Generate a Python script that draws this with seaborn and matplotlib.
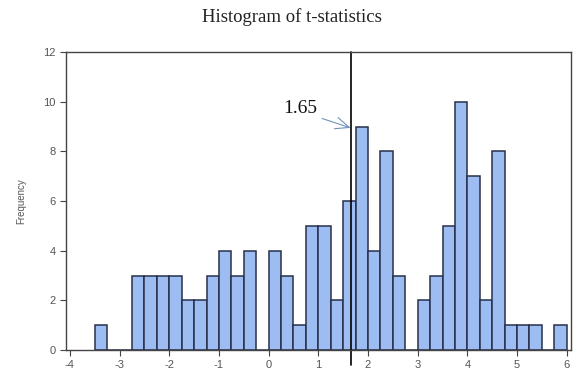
import numpy as np
import pandas as pd
import seaborn as sns
import matplotlib.pyplot as plt

# histogram of t-statistics, bins of width 0.25 starting at -3.5
bin_start = -3.5
bin_width = 0.25
counts = [1, 0, 0, 3, 3, 3, 3, 2, 2, 3, 4, 3, 4, 0,
          4, 3, 1, 5, 5, 2, 6, 9, 4, 8, 3, 0,
          2, 3, 5, 10, 7, 2, 8, 1, 1, 1, 0, 1]
x_ticks = [-4, -3, -2, -1, 0, 1, 2, 3, 4, 5, 6]
y_ticks = [0, 2, 4, 6, 8, 10, 12]
critical = 1.65

edges = bin_start + bin_width * np.arange(len(counts) + 1)
df = pd.DataFrame({"t": (edges[:-1] + edges[1:]) / 2, "n": counts})

sns.set_theme(style="ticks")
plt.rcParams['font.family'] = ['Liberation Sans', 'DejaVu Sans']
plt.rcParams['axes.unicode_minus'] = False

fig = plt.figure(figsize=(5.73, 3.78), dpi=100)
ax = fig.add_axes([0.115, 0.074, 0.881, 0.788])

sns.histplot(data=df, x="t", weights="n", bins=list(edges), ax=ax,
             color="#9dbcf2", edgecolor="#27304a", linewidth=1.1, alpha=1)

ax.set_xlim(-4.08, 6.08)
ax.set_ylim(0, 12)
ax.set_xticks(x_ticks)
ax.set_yticks(y_ticks)
ax.tick_params(labelsize=8, colors="#444444", length=4, width=0.8)
ax.tick_params(axis="x", labelcolor="#555555")
ax.tick_params(axis="y", labelcolor="#555555")
for s in ax.spines.values():
    s.set_visible(True)
    s.set_color("#444444")
    s.set_linewidth(1.0)

ax.set_ylabel("Frequency", fontsize=7, color="#555555", labelpad=12)
ax.set_xlabel("")

ax.axvline(critical, ymin=-0.05, ymax=1, color="black", linewidth=1.2, clip_on=False)
ax.annotate("1.65", xy=(critical, 8.95), xytext=(0.30, 9.55),
            fontsize=14, family="Liberation Serif", color="#111111",
            arrowprops=dict(arrowstyle="->,head_length=0.7,head_width=0.3",
                            color="#6f93bb", lw=0.8, shrinkA=1, shrinkB=0,
                            relpos=(1.0, 0.0)))

fig.text(0.51, 0.955, "Histogram of t-statistics", ha="center", va="center",
         fontsize=13.5, family="Liberation Serif", color="#222222")

fig.savefig("out.png", dpi=100)
